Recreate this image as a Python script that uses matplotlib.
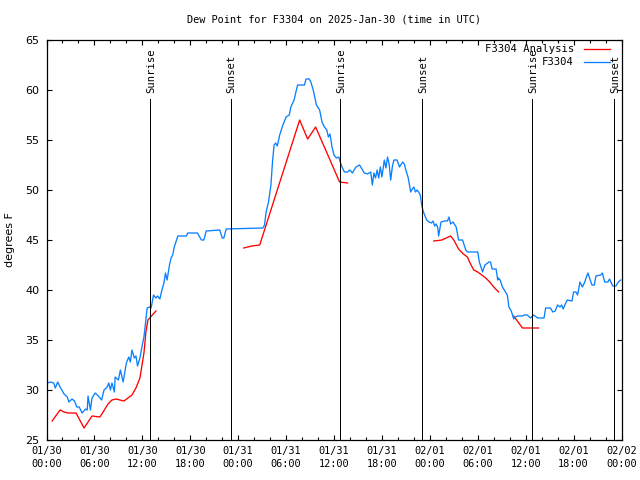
import numpy as np
import matplotlib
matplotlib.use("Agg")
import matplotlib.pyplot as plt

# ---------------- data (hours since 2025-01-30 00:00 UTC) ----------------
obs_hours = [0.1, 0.5, 0.9, 1.1, 1.4, 1.7, 2.2, 2.6, 2.8, 3.2, 3.5, 3.8, 4.1, 4.45, 4.9, 5.1, 5.2, 5.5, 5.7,
             6.1, 6.5, 6.9, 7.2, 7.6, 7.8, 8.0, 8.2, 8.5, 8.6, 9.0, 9.25, 9.6, 10.0, 10.3, 10.5, 10.7, 11.0,
             11.2, 11.4, 11.7, 11.95, 12.2, 12.4, 12.6, 12.9, 13.1, 13.4, 13.7, 13.9, 14.2, 14.45, 14.7,
             14.9, 15.1, 15.4, 15.6, 15.8, 16.0, 16.2, 16.45, 17.5, 17.7, 18.9, 19.4, 19.7, 20.0, 21.7,
             22.0, 22.2, 22.5, 27.1, 27.3, 27.5, 27.8, 28.1, 28.3, 28.5, 28.7, 28.9, 29.2, 29.6, 30.0,
             30.4, 30.6, 31.0, 31.2, 31.45, 32.3, 32.5, 32.9, 33.1, 33.4, 33.8, 34.2, 34.5, 34.8, 35.1,
             35.3, 35.5, 35.75, 36.0, 36.3, 36.6, 36.9, 37.3, 37.7, 38.0, 38.3, 38.75, 39.2, 39.8, 40.2,
             40.6, 40.8, 41.0, 41.2, 41.4, 41.6, 41.8, 42.0, 42.3, 42.5, 42.7, 42.9, 43.1, 43.3, 43.5,
             43.9, 44.2, 44.6, 44.8, 45.0, 45.3, 45.6, 45.8, 46.0, 46.2, 46.4, 46.6, 46.8, 47.0, 47.2,
             47.6, 47.9, 48.2, 48.4, 48.6, 48.8, 49.0, 49.1, 49.4, 49.8, 50.2, 50.4, 50.6, 50.9, 51.3,
             51.6, 52.1, 52.5, 52.7, 54.0, 54.2, 54.6, 54.9, 55.4, 55.6, 55.8, 56.3, 56.5, 56.6, 56.8,
             57.1, 57.4, 57.7, 57.9, 58.2, 58.5, 58.7, 59.0, 59.6, 59.8, 60.2, 60.6, 61.0, 61.5, 62.3,
             62.5, 63.1, 63.4, 63.7, 64.0, 64.3, 64.5, 64.7, 64.9, 65.2, 65.8, 66.0, 66.3, 66.5, 66.8,
             67.1, 67.4, 67.6, 67.8, 68.0, 68.3, 68.6, 68.8, 69.4, 69.6, 69.9, 70.3, 70.5, 70.9, 71.3,
             71.6, 71.9]
obs_dewpt = [30.7, 30.8, 30.7, 30.2, 30.8, 30.3, 29.6, 29.3, 28.8, 29.1, 28.9, 28.3, 28.3, 27.7, 28.1, 28.0, 29.4, 28.0, 29.2,
             29.7, 29.4, 29.0, 30.0, 30.3, 30.7, 30.0, 30.7, 29.8, 31.3, 31.0, 32.0, 30.8, 32.7, 33.3, 32.8, 34.0, 33.2,
             33.4, 32.4, 33.2, 34.3, 35.3, 36.7, 38.2, 38.3, 38.2, 39.5, 39.2, 39.4, 39.1, 40.0, 40.7,
             41.7, 41.0, 42.5, 43.2, 43.5, 44.3, 44.8, 45.4, 45.4, 45.7, 45.7, 45.0, 45.0, 45.9, 46.0,
             45.2, 45.2, 46.1, 46.2, 46.5, 47.8, 48.8, 50.5, 52.8, 54.5, 54.7, 54.4, 55.5, 56.5, 57.3,
             57.5, 58.3, 59.0, 59.7, 60.5, 60.5, 61.1, 61.1, 60.8, 60.0, 58.5, 58.0, 56.8, 56.3, 56.0,
             55.3, 55.6, 54.3, 53.5, 53.2, 53.3, 52.5, 51.8, 51.8, 52.0, 51.7, 52.3, 52.5, 51.7, 51.6,
             51.8, 50.5, 51.7, 51.2, 52.0, 51.2, 52.3, 51.3, 53.0, 52.2, 53.3, 52.6, 51.0, 52.3, 53.0,
             53.0, 52.3, 52.8, 52.6, 52.0, 51.2, 49.8, 50.1, 50.3, 49.8, 50.0, 49.8, 49.5, 48.4, 47.8,
             47.0, 46.8, 46.7, 46.9, 46.4, 46.6, 46.2, 45.4, 46.8, 46.9, 46.9, 47.3, 46.6, 46.8, 46.3,
             45.0, 45.0, 44.0, 43.8, 43.8, 42.8, 41.8, 42.5, 42.8, 42.8, 42.1, 42.1, 41.0, 41.2, 41.0,
             40.3, 39.9, 39.5, 38.3, 37.9, 37.1, 37.3, 37.4, 37.4, 37.5, 37.5, 37.2, 37.5, 37.2, 37.2,
             38.2, 38.2, 37.8, 37.9, 38.5, 38.3, 38.5, 38.1, 38.5, 39.0, 38.9, 39.8, 39.8, 39.5, 40.8,
             40.3, 40.8, 41.3, 41.7, 41.2, 40.5, 40.5, 41.4, 41.5, 41.7, 40.8, 40.8, 41.1, 40.4, 40.4,
             40.8, 41.0]

ana_hours = [0.7, 1.7, 2.2, 2.7, 3.7, 4.7, 5.7, 6.7, 7.7, 8.2, 8.7, 9.7, 10.7, 11.2, 11.7, 12.2, 12.45, 12.7, 13.7,
             np.nan,
             24.7, 25.7, 26.7, 31.7, 32.7, 33.7, 36.7, 37.7,
             np.nan,
             48.5, 49.5, 50.6, 51.0, 51.6, 52.2, 52.7, 53.1, 53.5, 54.0, 54.5, 55.0, 55.5, 56.0, 56.6,
             np.nan,
             58.5, 59.6, 61.6]
ana_dewpt = [26.9, 28.0, 27.8, 27.7, 27.7, 26.2, 27.4, 27.3, 28.6, 29.0, 29.1, 28.9, 29.5, 30.2, 31.2, 33.7, 35.8, 37.0, 37.9,
             np.nan,
             44.2, 44.4, 44.5, 57.0, 55.1, 56.3, 50.8, 50.7,
             np.nan,
             44.9, 45.0, 45.4, 45.0, 44.1, 43.6, 43.3, 42.6, 42.0, 41.8, 41.5, 41.2, 40.8, 40.3, 39.8,
             np.nan,
             37.4, 36.2, 36.2]

sun_hours = [12.97, 23.08, 36.8, 47.08, 60.8, 71.1]
sun_labels = ["Sunrise", "Sunset", "Sunrise", "Sunset", "Sunrise", "Sunset"]

xtick_hours = list(range(0, 73, 6))
xtick_labels = ["01/30\n00:00", "01/30\n06:00", "01/30\n12:00", "01/30\n18:00",
                "01/31\n00:00", "01/31\n06:00", "01/31\n12:00", "01/31\n18:00",
                "02/01\n00:00", "02/01\n06:00", "02/01\n12:00", "02/01\n18:00",
                "02/02\n00:00"]
ytick_vals = [25, 30, 35, 40, 45, 50, 55, 60, 65]

series_names = ["F3304 Analysis", "F3304"]
series_colors = ["#ff0000", "#0a80ff"]

# ---------------- figure ----------------
MONO = "DejaVu Sans Mono"
SANS = "DejaVu Sans"
LW = 0.95

fig = plt.figure(figsize=(6.4, 4.8), dpi=100)
ax = fig.add_axes([46.5 / 640, 40 / 480, 575 / 640, 400 / 480])

ax.plot(ana_hours, ana_dewpt, color=series_colors[0], lw=LW)
ax.plot(obs_hours, obs_dewpt, color=series_colors[1], lw=LW)

ax.set_xlim(0, 72)
ax.set_ylim(25, 65)

for h, lab in zip(sun_hours, sun_labels):
    ax.plot([h, h], [25, 59.1], color="black", lw=0.72, antialiased=False)
    ax.text(h + 0.1, 59.7, lab, rotation=90, ha="center", va="bottom",
            family=MONO, fontsize=7.6, color="black")

ax.set_xticks(xtick_hours)
ax.set_xticklabels(xtick_labels, family=MONO, fontsize=7.4, linespacing=1.45)
ax.set_xticks(range(0, 73, 2), minor=True)
ax.set_yticks(ytick_vals)
ax.set_yticklabels([str(v) for v in ytick_vals], family=SANS, fontsize=8)

ax.tick_params(which="both", direction="in", top=True, right=True, width=0.8)
ax.tick_params(which="major", length=3.5, pad=4)
ax.tick_params(which="minor", length=2.0)
ax.tick_params(axis="y", pad=5)
for sp in ax.spines.values():
    sp.set_linewidth(0.9)

# legend (gnuplot style: right-aligned text, then sample line)
leg_rows = [0.977, 0.944]
for name, col, yy in zip(series_names, series_colors, leg_rows):
    ax.text(0.917, yy, name, transform=ax.transAxes, ha="right", va="center",
            family=MONO, fontsize=7.6)
    ax.plot([0.935, 0.980], [yy, yy], transform=ax.transAxes, color=col, lw=LW)

fig.text(334 / 640, 1 - 19 / 480, "Dew Point for F3304 on 2025-Jan-30 (time in UTC)",
         ha="center", va="center", family=MONO, fontsize=7.4)
fig.text(10 / 640, 0.5, "degrees F", rotation=90, ha="center", va="center",
         family=SANS, fontsize=8)

fig.savefig("out.png", dpi=100)
